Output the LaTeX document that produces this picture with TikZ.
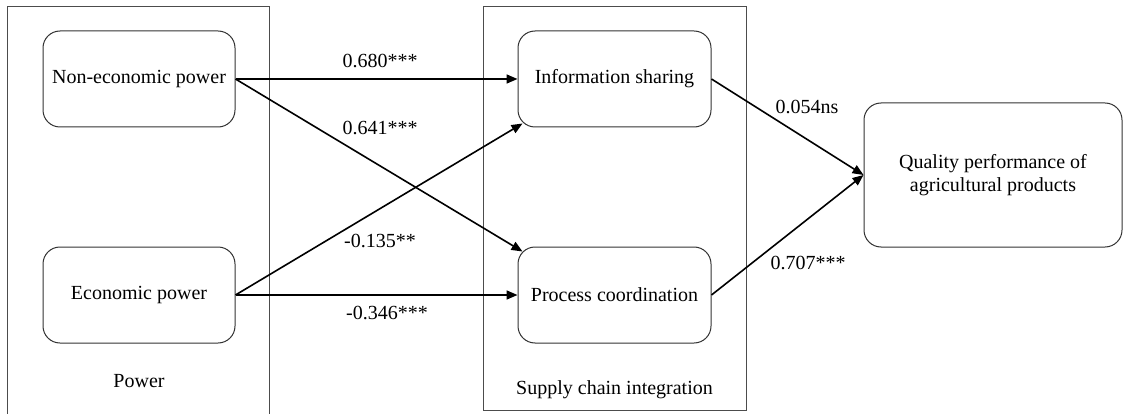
\documentclass[tikz,border=0pt]{standalone}
\usepackage{fontspec}
\setmainfont{Liberation Serif}
\usetikzlibrary{arrows.meta,calc}
\begin{document}
\begin{tikzpicture}[x=1pt,y=-1pt,
  font=\fontsize{20}{24}\selectfont,
  group/.style={draw=black!70,line width=1pt},
  blk/.style={draw=black!80,line width=1pt,rounded corners=17pt,align=center,inner sep=0pt},
  conn/.style={line width=1.6pt,-{Triangle[length=11pt,width=9pt]}},
  lbl/.style={inner sep=0pt}
]
\useasboundingbox (0,0) rectangle (1123,414);
\fill[white] (0,0) rectangle (1123,414);
% group frames
\draw[group] (7,418) -- (7,7) -- (269,7) -- (269,418);
\draw[group] (483,7) rectangle (746,410);
\node[lbl,anchor=base] (powerlbl) at (139,387) {Power};
\node[lbl,anchor=base] (scilbl) at (614.5,394) {Supply chain integration};
% blocks
\node[blk,minimum width=192pt,minimum height=96pt] (ne) at (139,79) {Non-economic power};
\node[blk,minimum width=192pt,minimum height=96pt] (ep) at (139,295) {Economic power};
\node[blk,minimum width=193pt,minimum height=96pt] (is) at (614.5,79) {Information sharing};
\node[blk,minimum width=193pt,minimum height=96pt] (pc) at (614.5,295) {Process coordination};
\node[blk,minimum width=258pt,minimum height=144pt] (q) at (993,175) {Quality performance of\\[-1pt]agricultural products};
% corner targets
\coordinate (pcnw) at ($(pc.north west)+(5,5)$);
\coordinate (issw) at ($(is.south west)+(5,-4)$);
% connectors
\draw[conn] (ne.east) -- (is.west);
\draw[conn] (ne.east) -- (pcnw);
\draw[conn] (ep.east) -- (issw);
\draw[conn] (ep.east) -- (pc.west);
\draw[conn] (is.east) -- (q.west);
\draw[conn] (pc.east) -- (q.west);
% labels
\node[lbl] (l1) at (380,61) {0.680***};
\node[lbl] (l2) at (380,128) {0.641***};
\node[lbl] (l3) at (380,241) {-0.135**};
\node[lbl] (l4) at (387,313) {-0.346***};
\node[lbl] (l5) at (807,107) {0.054ns};
\node[lbl] (l6) at (808,263) {0.707***};
\end{tikzpicture}
\end{document}
